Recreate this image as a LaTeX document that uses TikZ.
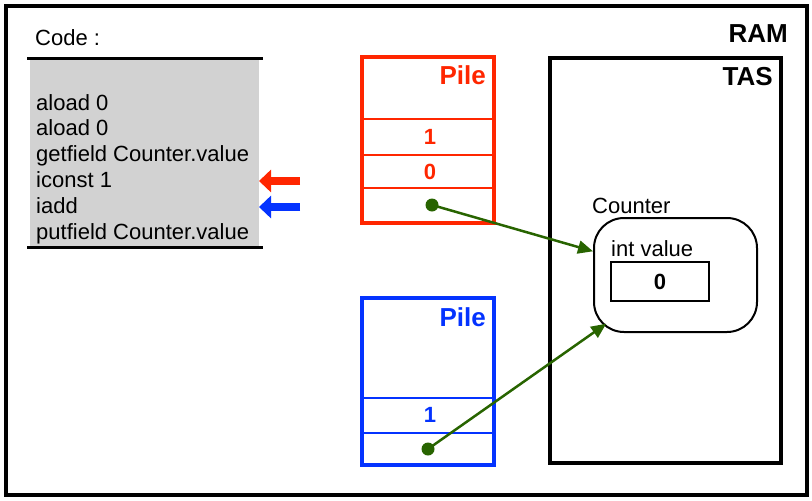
\documentclass[tikz,border=0pt]{standalone}
\usepackage{fontspec}
\setmainfont{Liberation Sans}
\usetikzlibrary{calc, arrows.meta, positioning}
\definecolor{pilered}{RGB}{255,38,0}
\definecolor{pileblue}{RGB}{4,51,255}
\definecolor{refgreen}{RGB}{40,100,0}
\definecolor{codegray}{RGB}{210,210,210}

\begin{document}
\begin{tikzpicture}[x=1pt, y=-1pt,
        txt/.style={inner sep=0, font=\fontsize{22}{26}\selectfont},
        big/.style={inner sep=0, font=\fontsize{26}{30}\selectfont\bfseries},
        num/.style={inner sep=0, font=\fontsize{22}{26}\selectfont\bfseries},
        frame/.style={line width=4pt, line cap=round},
        cell/.style={line width=2pt},
        dot/.style={circle, fill=refgreen, inner sep=0, minimum size=13pt},
        ptr/.style={refgreen, line width=2.5pt, -{Triangle[length=15pt, width=13pt]}},
        fat/.style={line width=8pt, -{Triangle[length=12pt, width=22pt]}}]
        \useasboundingbox (0,0) rectangle (812,501);

        % RAM et TAS
        \draw[frame] (6,6) rectangle (807,495);
        \node[big, anchor=base east] (ram) at (788,42) {RAM};
        \draw[frame] (550,58) rectangle (781,463);
        \node[big, anchor=base east] (tas) at (773,85) {TAS};

        % code
        \node[txt, anchor=base west] (code) at (35,45) {Code :};
        \fill[codegray] (30,58) rectangle (259,247);
        \draw[line width=3pt] (27,58) -- (263,58) (27,247) -- (263,247);
        \foreach \t [count=\i, evaluate=\i as \y using 110+25.8*(\i-1)] in
            {aload 0, aload 0, getfield Counter.value, iconst 1, iadd, putfield Counter.value}
        \node[txt, anchor=base west] (l\i) at (36,\y) {\t};

        \coordinate (rt) at (300,181); \coordinate (rh) at (259,181);
        \coordinate (bt) at (300,207); \coordinate (bh) at (259,207);
        \draw[fat, pilered] (rt) -- (rh);
        \draw[fat, pileblue] (bt) -- (bh);

        % pile rouge
        \draw[frame, pilered] (362,57) rectangle (494,223);
        \draw[cell, pilered] (362,119) -- (494,119) (362,155) -- (494,155) (362,188) -- (494,188);
        \node[big, pilered, anchor=base east] (rpile) at (486,84) {Pile};
        \node[num, pilered] (r1) at (430,137) {1};
        \node[num, pilered] (r0) at (430,172) {0};
        \node[dot] (rdot) at (432,205) {};

        % pile bleue
        \draw[frame, pileblue] (362,298) rectangle (494,465);
        \draw[cell, pileblue] (362,398) -- (494,398) (362,433) -- (494,433);
        \node[big, pileblue, anchor=base east] (bpile) at (486,326) {Pile};
        \node[num, pileblue] (b1) at (430,415) {1};
        \node[dot] (bdot) at (428,449) {};

        % objet Counter
        \node[draw, line width=2pt, rounded corners=30pt, minimum width=163pt,
              minimum height=114pt] (counter) at (675.5,275) {};
        \node[txt, anchor=base west] (cname) at (592,213) {Counter};
        \node[txt, anchor=base west] (field) at (611,256) {int value};
        \node[draw, line width=2pt, minimum width=98pt, minimum height=39pt,
              num] (val) at (660,281.5) {0};

        \draw[ptr] (rdot.center) -- (counter);
        \draw[ptr] (bdot.center) -- ($(bdot)!0.72!(counter.center)$);
\end{tikzpicture}
\end{document}
